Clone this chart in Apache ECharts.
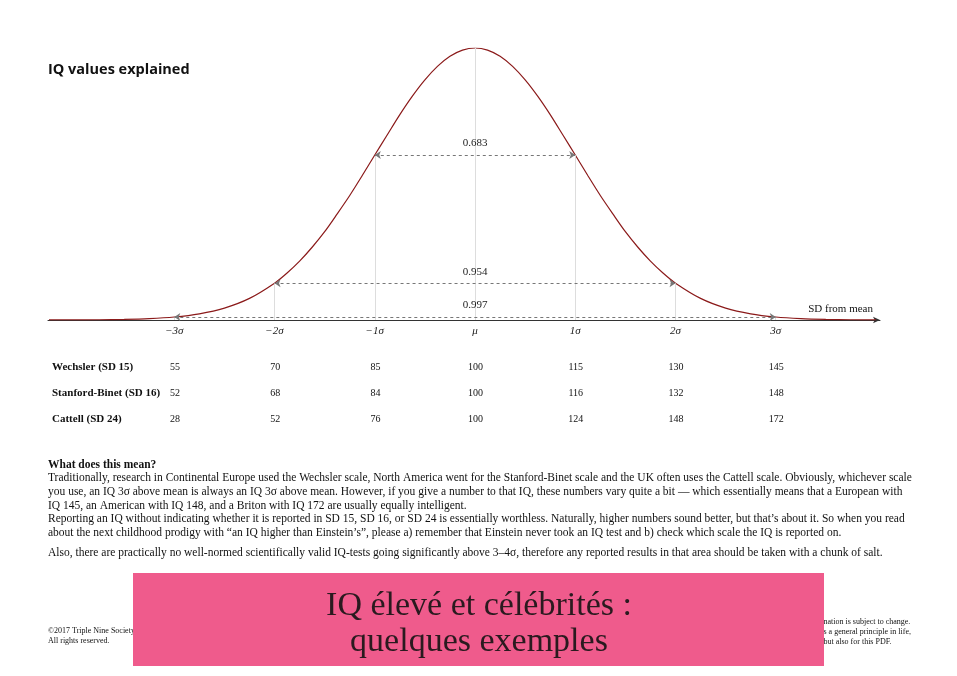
<!DOCTYPE html><html><head><meta charset="utf-8"><script src="https://cdn.jsdelivr.net/npm/echarts@6/dist/echarts.min.js"></script>
<style>html,body{margin:0;background:#fff}#c{width:957px;height:676px}</style></head><body><div id="c"></div><script>
var sdX=[-4.25,-4,-3.75,-3.5,-3.25,-3,-2.75,-2.5,-2.25,-2,-1.875,-1.75,-1.625,-1.5,-1.375,-1.25,-1.125,-1,-0.875,-0.75,-0.625,-0.5,-0.375,-0.25,-0.125,0,0.125,0.25,0.375,0.5,0.625,0.75,0.875,1,1.125,1.25,1.375,1.5,1.625,1.75,1.875,2,2.25,2.5,2.75,3,3.25,3.5,3.75,4];
var density=[0.00005,0.0001,0.0004,0.0009,0.0020,0.0044,0.0091,0.0175,0.0317,0.0540,0.0689,0.0863,0.1067,0.1295,0.1556,0.1826,0.2119,0.2420,0.2716,0.3011,0.3282,0.3521,0.3719,0.3867,0.3958,0.3989,0.3958,0.3867,0.3719,0.3521,0.3282,0.3011,0.2716,0.2420,0.2119,0.1826,0.1556,0.1295,0.1067,0.0863,0.0689,0.0540,0.0317,0.0175,0.0091,0.0044,0.0020,0.0009,0.0004,0.0001];
var sigmaTicks=[-3,-2,-1,0,1,2,3];
var sigmaLabels=['−3σ','−2σ','−1σ','μ','1σ','2σ','3σ'];
var sigmaDensity=[0.0044,0.0540,0.2420,0.3989,0.2420,0.0540,0.0044];
var bands=[{k:1,p:'0.683',y:0.2420},{k:2,p:'0.954',y:0.0540},{k:3,p:'0.997',y:0.0044}];
var scales=['Wechsler (SD 15)','Stanford-Binet (SD 16)','Cattell (SD 24)'];
var wechsler=[55,70,85,100,115,130,145];
var stanford=[52,68,84,100,116,132,148];
var cattell=[28,52,76,100,124,148,172];
var body=['Traditionally, research in Continental Europe used the Wechsler scale, North America went for the Stanford-Binet scale and the UK often uses the Cattell scale. Obviously, whichever scale',
'you use, an IQ 3σ above mean is always an IQ 3σ above mean. However, if you give a number to that IQ, these numbers vary quite a bit — which essentially means that a European with',
'IQ 145, an American with IQ 148, and a Briton with IQ 172 are usually equally intelligent.',
'Reporting an IQ without indicating whether it is reported in SD 15, SD 16, or SD 24 is essentially worthless. Naturally, higher numbers sound better, but that’s about it. So when you read',
'about the next childhood prodigy with “an IQ higher than Einstein’s”, please a) remember that Einstein never took an IQ test and b) check which scale the IQ is reported on.'];
var lastLine='Also, there are practically no well-normed scientifically valid IQ-tests going significantly above 3–4σ, therefore any reported results in that area should be taken with a chunk of salt.';
var ch=echarts.init(document.getElementById('c'));
var serif='"Liberation Serif","DejaVu Serif",serif';
var vlines=sigmaTicks.map(function(s,i){return [{coord:[s,0]},{coord:[s,sigmaDensity[i]]}];});
var hlines=bands.map(function(b){return [{coord:[-b.k,b.y],label:{show:true,position:'middle',formatter:b.p,distance:6,color:'#222',fontFamily:serif,fontSize:11}},{coord:[b.k,b.y]}];});
var g=[];
g.push({type:'text',left:48,top:62,style:{text:'IQ values explained',font:'bold 14.5px "Open Sans",sans-serif',fill:'#111'}});
g.push({type:'text',right:84,top:304,style:{text:'SD from mean',font:'11px '+serif,fill:'#111'}});
var rows=[wechsler,stanford,cattell];
rows.forEach(function(r,ri){
 var y=362+ri*26;
 g.push({type:'text',left:52,top:y,style:{text:scales[ri],font:'bold 11px '+serif,fill:'#111'}});
 r.forEach(function(v,i){g.push({type:'text',style:{x:175+i*100.2,y:y,text:String(v),align:'center',verticalAlign:'top',font:'10px '+serif,fill:'#111'}});});
});
g.push({type:'text',left:48,top:459,style:{text:'What does this mean?',font:'bold 11.5px '+serif,fill:'#111'}});
body.forEach(function(t,i){g.push({type:'text',left:48,top:472+i*13.8,style:{text:t,font:'11.5px '+serif,fill:'#111'}});});
g.push({type:'text',left:48,top:547,style:{text:lastLine,font:'11.5px '+serif,fill:'#111'}});
g.push({type:'text',left:48,top:626,style:{text:'©2017 Triple Nine Society\nAll rights reserved.',font:'8px '+serif,fill:'#111',lineHeight:10}});
g.push({type:'text',right:46,top:617,style:{text:'nation is subject to change.\ns a general principle in life,\nbut also for this PDF.',font:'8px '+serif,fill:'#111',lineHeight:10,align:'right'}});
g.push({type:'rect',shape:{x:133,y:573,width:691,height:93},style:{fill:'#EF5B8C'}});
g.push({type:'text',style:{x:479,y:588,text:'IQ élevé et célébrités :\nquelques exemples',font:'34px '+serif,fill:'#2a1a1f',align:'center',verticalAlign:'top',lineHeight:36}});
ch.setOption({
 animation:false,
 grid:{left:48,right:77,top:48,bottom:356},
 xAxis:{type:'value',min:-4.26,max:4.04,splitLine:{show:false},
  axisLine:{onZero:false,lineStyle:{color:'#333'},symbol:['none','arrow'],symbolSize:[5,7]},
  axisTick:{show:false},
  axisLabel:{customValues:sigmaTicks,formatter:function(v){return sigmaLabels[sigmaTicks.indexOf(Math.round(v))]||'';},fontFamily:serif,fontSize:11,color:'#222',fontStyle:'italic',margin:6}},
 yAxis:{type:'value',min:0,max:0.3989,show:false},
 series:[{type:'line',data:sdX.map(function(x,i){return [x,density[i]];}),smooth:0.3,symbol:'none',lineStyle:{color:'#8B1A1A',width:1.2},
  markLine:{silent:true,symbol:'none',label:{show:false},lineStyle:{color:'#ddd',type:'solid',width:1},data:vlines}},
  {type:'line',data:[],markLine:{silent:true,symbol:['arrow','arrow'],symbolSize:6,lineStyle:{color:'#777',type:[3,3],width:1},data:hlines}}],
 graphic:g
});
</script></body></html>
